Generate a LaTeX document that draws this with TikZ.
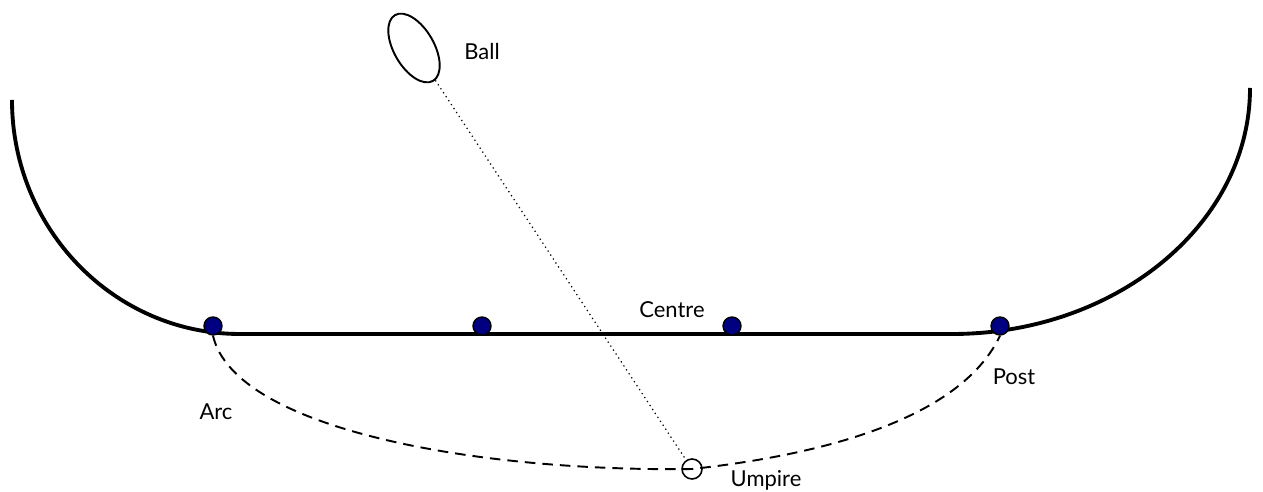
\documentclass[tikz,border=0pt]{standalone}
\usepackage{fontspec}
\setmainfont{Lato}
\usetikzlibrary{positioning,shapes.geometric}
\definecolor{cPost}{RGB}{0,0,128}

\begin{document}
\begin{tikzpicture}[
  x=0.02cm, y=-0.02cm,
  font=\fontsize{12.5}{15}\selectfont,
  post/.style  = {draw=black, fill=cPost, circle, line width=0.8pt,
                  minimum size=0.36cm, inner sep=0pt},
  field/.style = {line width=2.2pt},
  arcpath/.style = {line width=1.1pt, dash pattern=on 6pt off 4pt},
  sight/.style = {dotted, line width=0.7pt},
  lbl/.style   = {inner sep=0pt}
]
\useasboundingbox (0,0) rectangle (1263,492);

% ------------------------------------------------------------ the field --
\coordinate (topL)  at (12,100);
\coordinate (baseL) at (240,334);
\coordinate (baseR) at (952,334);
\coordinate (topR)  at (1250,88);
\draw[field] (topL) .. controls (12,229) and (114,334) .. (baseL)
          -- (baseR) .. controls (1116,334) and (1250,224) .. (topR);

% ---------------------------------------------------------------- posts --
\node[post] (p1) at (213,326) {};
\node[post] (p2) at (482,326) {};
\node[post] (p3) at (732,326) {};
\node[post] (p4) at (1000,326) {};

% ------------------------------------------------------- ball and umpire --
\node[draw, ellipse, line width=1.1pt, minimum width=0.8cm,
      minimum height=1.52cm, rotate=30] (ball) at (414,48) {};
\coordinate (umpc) at (692,469);
\draw[arcpath] (p1.south) .. controls (235,430) and (480,472) .. (umpc)
               .. controls (820,455) and (960,420) .. (p4.south);
\node[draw, circle, line width=0.9pt, minimum size=0.4cm,
      inner sep=0pt] (ump) at (umpc) {};
\draw[sight] (ball) -- (ump);

% --------------------------------------------------------------- labels --
\node[lbl] (lball) at (482,52)  {Ball};
\node[lbl] (lcen)  at (672,310) {Centre};
\node[lbl] (lpost) at (1014,377) {Post};
\node[lbl] (larc)  at (216,412) {Arc};
\node[lbl] (lump)  at (766,480) {Umpire};

\end{tikzpicture}
\end{document}
